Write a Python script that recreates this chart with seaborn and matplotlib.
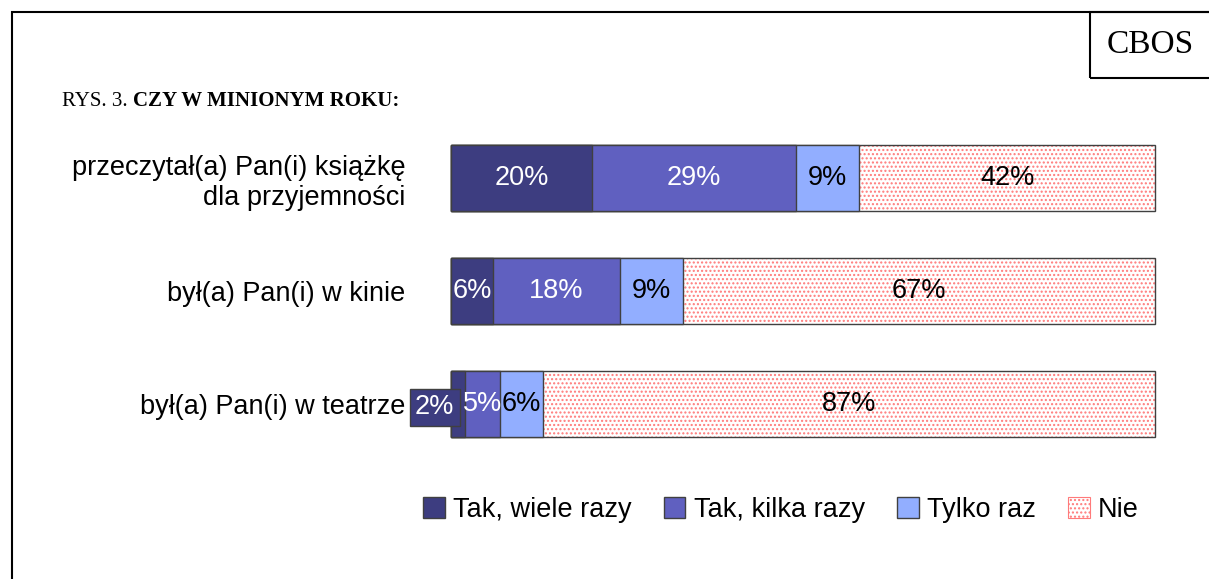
import numpy as np
import matplotlib
matplotlib.use('Agg')
import matplotlib.pyplot as plt
import matplotlib.patches as mpatches
import seaborn as sns

# Data
categories = ['przeczytał(a) Pan(i) książkę\ndla przyjemności',
              'był(a) Pan(i) w kinie',
              'był(a) Pan(i) w teatrze']
series_names = ['Tak, wiele razy', 'Tak, kilka razy', 'Tylko raz', 'Nie']
tak_wiele = [20, 6, 2]
tak_kilka = [29, 18, 5]
tylko_raz = [9, 9, 6]
nie = [42, 67, 87]

colors = ['#3D3D80', '#6060C0', '#92AEFF', 'white']
text_colors = ['white', 'white', 'black', 'black']
hatch_color = '#FF7A7A'
edge = '#404040'

sns.set_style('white')
plt.rcParams['font.family'] = ['Liberation Sans', 'DejaVu Sans']
plt.rcParams['text.color'] = 'black'
plt.rcParams['hatch.linewidth'] = 1.0

fig = plt.figure(figsize=(12.09, 5.79), dpi=100)
ax = fig.add_axes([451 / 1209, 1 - 460.5 / 579, 704 / 1209, 339 / 579])
ax.set_facecolor('none')

values = np.array([tak_wiele, tak_kilka, tylko_raz, nie], dtype=float)
cum = values.cumsum(axis=0)

# Nie: hatched background, then outline on top
sns.barplot(x=cum[3], y=categories, orient='h', color='white', saturation=1,
            width=0.59, edgecolor=hatch_color, linewidth=0, hatch='....', ax=ax)
sns.barplot(x=cum[3], y=categories, orient='h', fill=False, saturation=1,
            width=0.59, edgecolor=edge, linewidth=1.0, ax=ax)
# remaining series, largest cumulative first so they stack
for i in [2, 1, 0]:
    sns.barplot(x=cum[i], y=categories, orient='h', color=colors[i], saturation=1,
                width=0.59, edgecolor=edge, linewidth=1.0, ax=ax)
for p in ax.patches:
    p.set_clip_on(False)

# Value labels
for i in range(4):
    for j in range(len(categories)):
        v = values[i, j]
        center = cum[i, j] - v / 2
        if i == 0 and j == 2:
            # too narrow, label sits in a box to the left
            ax.text(-2.3, j + 0.03, f'{v:.0f}%', ha='center', va='center',
                    fontsize=19.5, color='white',
                    bbox=dict(boxstyle='square,pad=0.2', fc=colors[0], ec=edge, lw=1))
            continue
        ax.text(center, j, f'{v:.0f}%', ha='center', va='center',
                fontsize=19.5, color=text_colors[i])

ax.set_xlim(0, 100)
ax.set_ylim(2.5, -0.5)
ax.set_xticks([])
ax.set_xlabel('')
ax.set_ylabel('')
ax.tick_params(axis='y', length=0, pad=33, labelsize=19.5, labelcolor='black')
for lab in ax.get_yticklabels():
    lab.set_multialignment('right')
    lab.set_linespacing(1.2)
sns.despine(ax=ax, left=True, bottom=True)

# Legend
handles = []
for i in range(4):
    if i == 3:
        handles.append(mpatches.Patch(facecolor='white', edgecolor=hatch_color,
                                      hatch='....', linewidth=0.8))
    else:
        handles.append(mpatches.Patch(facecolor=colors[i], edgecolor=edge, linewidth=1))
fig.legend(handles, series_names, loc='center', bbox_to_anchor=(781 / 1209, 1 - 510 / 579),
           ncol=4, frameon=False, fontsize=19.5, handlelength=0.8, handleheight=0.8,
           handletextpad=0.3, columnspacing=1.2)

# Frame and CBOS box
fig.patches.append(mpatches.Rectangle((12 / 1209, -0.1), 1.2, 1 - 12 / 579 + 0.1,
                                      transform=fig.transFigure, fill=False,
                                      edgecolor='black', linewidth=1.5))
fig.patches.append(mpatches.Rectangle((1090 / 1209, 1 - 78 / 579), 0.3, 66 / 579,
                                      transform=fig.transFigure, fill=False,
                                      edgecolor='black', linewidth=1.5))
fig.text(1150 / 1209, 1 - 45 / 579, 'CBOS', ha='center', va='center',
         fontsize=24, family='Liberation Serif')

# Title: normal + bold part
t1 = fig.text(62 / 1209, 1 - 106 / 579, 'RYS. 3. ', ha='left', va='baseline',
              fontsize=15, family='Liberation Serif')
ax.annotate('CZY W MINIONYM ROKU:', xy=(1, 0), xycoords=t1, ha='left', va='bottom',
            fontsize=15, family='Liberation Serif', fontweight='bold', annotation_clip=False)

fig.savefig('out.png', dpi=100)
